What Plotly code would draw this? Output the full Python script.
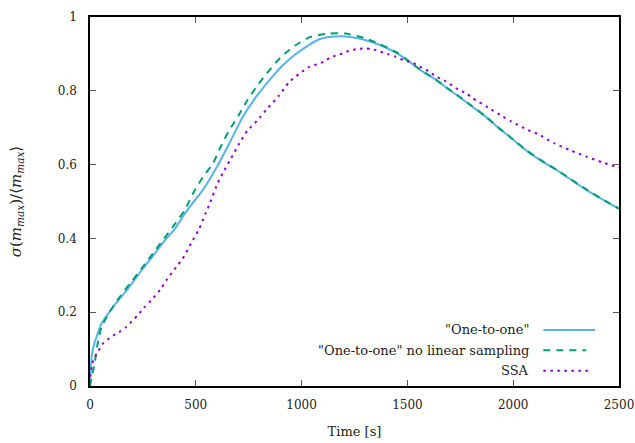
import plotly.graph_objects as go

# ---- data ----
one_x = [0, 3, 8, 16, 31, 54, 86, 133, 180, 243, 306, 354, 401, 448, 495, 532, 594, 657, 721, 783,
         845, 909, 971, 1034, 1081, 1128, 1191, 1254, 1316, 1379, 1442, 1504, 1567, 1630, 1692, 1739,
         1802, 1865, 1927, 1990, 2053, 2131, 2209, 2273, 2350, 2429, 2500]
one_y = [0.0, 0.045, 0.079, 0.106, 0.133, 0.169, 0.196, 0.232, 0.264, 0.313, 0.359, 0.395, 0.426, 0.467,
         0.503, 0.530, 0.588, 0.656, 0.728, 0.782, 0.827, 0.868, 0.899, 0.924, 0.939, 0.946, 0.948,
         0.944, 0.935, 0.922, 0.904, 0.881, 0.854, 0.832, 0.805, 0.786, 0.759, 0.732, 0.701, 0.672,
         0.642, 0.611, 0.584, 0.559, 0.530, 0.503, 0.480]

nolin_x = [0, 10, 22, 35, 54, 93, 140, 195, 250, 297, 349, 400, 447, 486, 533, 580, 618, 657, 701, 744,
           796, 845, 900, 968, 1042, 1128, 1206, 1292, 1371, 1450, 1504, 1567, 1630, 1692, 1739, 1802,
           1865, 1927, 1990, 2053, 2131, 2209, 2273, 2350, 2429, 2500]
nolin_y = [0.0, 0.03, 0.061, 0.111, 0.16, 0.201, 0.241, 0.282, 0.323, 0.359, 0.399, 0.438, 0.476, 0.521,
           0.566, 0.602, 0.649, 0.692, 0.732, 0.775, 0.818, 0.854, 0.890, 0.922, 0.946, 0.955, 0.955,
           0.944, 0.926, 0.904, 0.881, 0.855, 0.832, 0.806, 0.787, 0.760, 0.733, 0.702, 0.673, 0.643,
           0.612, 0.585, 0.560, 0.531, 0.504, 0.481]

ssa_x = [0, 16, 38, 61, 100, 140, 171, 226, 258, 289, 336, 360, 407, 438, 477, 516, 548, 563, 602, 634,
         665, 704, 744, 790, 837, 892, 939, 986, 1034, 1073, 1104, 1143, 1183, 1222, 1262, 1298, 1333,
         1371, 1410, 1445, 1480, 1521, 1560, 1598, 1638, 1678, 1739, 1779, 1809, 1880, 1951, 1990, 2069,
         2116, 2194, 2273, 2344, 2422, 2492, 2500]
ssa_y = [0.025, 0.070, 0.093, 0.115, 0.133, 0.147, 0.160, 0.192, 0.214, 0.232, 0.264, 0.286, 0.322,
         0.345, 0.386, 0.426, 0.471, 0.490, 0.548, 0.584, 0.615, 0.656, 0.692, 0.719, 0.751, 0.786,
         0.822, 0.845, 0.864, 0.872, 0.879, 0.892, 0.899, 0.908, 0.913, 0.915, 0.913, 0.906, 0.899,
         0.892, 0.883, 0.877, 0.865, 0.854, 0.838, 0.827, 0.804, 0.793, 0.780, 0.755, 0.730, 0.717,
         0.694, 0.683, 0.658, 0.638, 0.622, 0.606, 0.593, 0.592]

names = ['"One-to-one"', '"One-to-one" no linear sampling', 'SSA']
colors = ['#56B4E9', '#009E73', '#9400D3']
dashes = ['solid', '7px,6px', '2.5px,4.5px']

x_ticks = [0, 500, 1000, 1500, 2000, 2500]
y_ticks = [0, 0.2, 0.4, 0.6, 0.8, 1.0]
y_ticklabels = ['0', '0.2', '0.4', '0.6', '0.8', '1']

FONT = "DejaVu Serif"

fig = go.Figure()
for xs, ys, nm, c, d in zip([one_x, nolin_x, ssa_x], [one_y, nolin_y, ssa_y], names, colors, dashes):
    fig.add_trace(go.Scatter(x=xs, y=ys, mode='lines', name=nm,
                             line=dict(color=c, width=2, dash=d, shape='spline', smoothing=0.6)))

# custom gnuplot-style legend (text right, sample on the right)
leg_y = [0.152, 0.097, 0.041]
leg_x1 = [0.955, 0.938, 0.947]
for i, (nm, c, d) in enumerate(zip(names, colors, dashes)):
    fig.add_annotation(xref='paper', yref='paper', x=0.834, y=leg_y[i], text=nm, showarrow=False,
                       xanchor='right', yanchor='middle', font=dict(family=FONT, size=13, color='#222'))
    fig.add_shape(type='line', xref='paper', yref='paper', x0=0.857, x1=leg_x1[i], y0=leg_y[i], y1=leg_y[i],
                  line=dict(color=c, width=2, dash=d))

axis_common = dict(showline=True, linecolor='black', linewidth=1.5, mirror='allticks', ticks='inside',
                   ticklen=6, tickcolor='#555', tickwidth=1, showgrid=False, zeroline=False,
                   ticklabeloverflow='allow', automargin=False,
                   tickfont=dict(family=FONT, size=12, color='#222'))

fig.update_xaxes(range=[0, 2500], tickvals=x_ticks, ticktext=[str(v) for v in x_ticks],
                 ticklabelstandoff=7,
                 title=dict(text='Time [s]', font=dict(family=FONT, size=13, color='#222'), standoff=16),
                 **axis_common)
fig.update_yaxes(range=[0, 1], tickvals=y_ticks, ticktext=y_ticklabels, ticklabelstandoff=9,
                 title=dict(text='<i>σ</i>(<i>m</i><sub><i>max</i></sub>)/⟨<i>m</i><sub><i>max</i></sub>⟩',
                            font=dict(family=FONT, size=15, color='#222'), standoff=33),
                 **axis_common)

fig.update_layout(width=635, height=443, showlegend=False, plot_bgcolor='white', paper_bgcolor='white',
                  margin=dict(l=90, r=16, t=17, b=57), font=dict(family=FONT, size=13, color='#222'))

fig.write_html("out.html")
